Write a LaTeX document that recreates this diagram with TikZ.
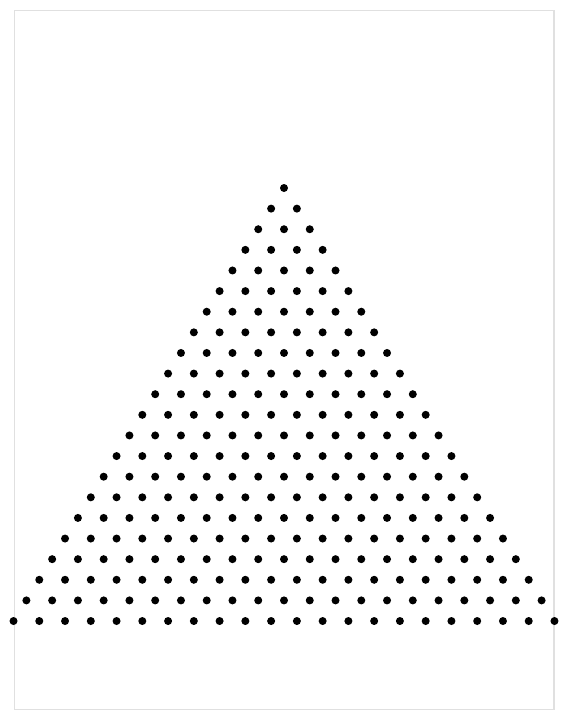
\documentclass[tikz,border=0pt]{standalone}
\begin{document}
\begin{tikzpicture}[x=1pt,y=-1pt,
  frame/.style={draw={rgb,255:red,224;green,224;blue,224},line width=1.6pt},
  dot/.style={circle,fill=black,inner sep=0pt,minimum size=8pt}]
\useasboundingbox (0,0) rectangle (568,721);
\draw[frame] (14.5,10.5) rectangle (554,709.5);
\foreach \i in {0,...,21}{
  \foreach \j in {0,...,\i}{
    \node[dot] (d-\i-\j) at ({284+(\j-\i/2)*25.76},{188+\i*20.62}) {};
  }
}
\end{tikzpicture}
\end{document}
